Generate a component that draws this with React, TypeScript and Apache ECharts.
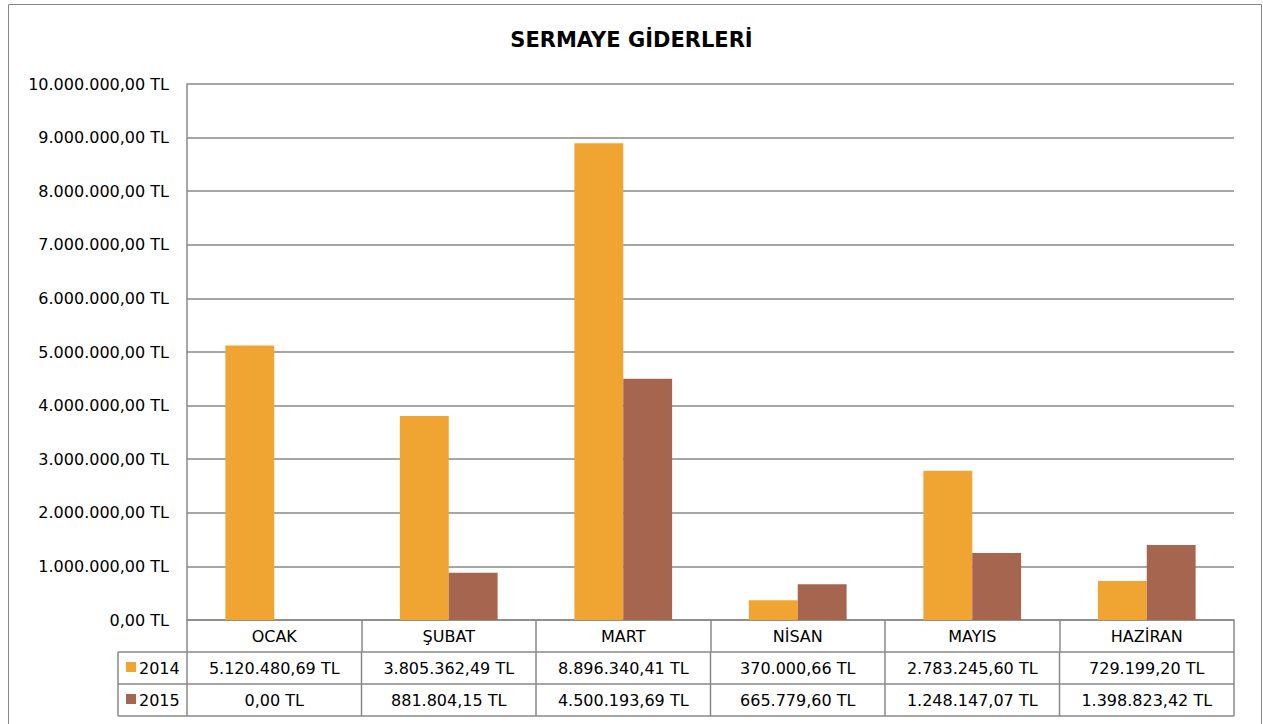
import React, { useEffect, useRef } from "react";
import * as echarts from "echarts";

const categories = ["OCAK", "ŞUBAT", "MART", "NİSAN", "MAYIS", "HAZİRAN"];
const seriesNames = ["2014", "2015"];
const values2014 = [5120480.69, 3805362.49, 8896340.41, 370000.66, 2783245.6, 729199.2];
const values2015 = [0, 881804.15, 4500193.69, 665779.6, 1248147.07, 1398823.42];
const colors = ["#F0A431", "#A5654F"];

const FONT = "DejaVu Sans";
const FS = 16;
const GRID_L = 187;
const GRID_R = 1234;
const GRID_T = 84;
const GRID_B = 620;
const ROW_H = 32;
const LEG_L = 118;
const LINE = "#888888";

function fmtTL(v: number): string {
  const fixed = Math.abs(v).toFixed(2);
  const [intPart, dec] = fixed.split(".");
  const withDots = intPart.replace(/\B(?=(\d{3})+(?!\d))/g, ".");
  return (v < 0 ? "-" : "") + withDots + "," + dec + " TL";
}

export default function App() {
  const ref = useRef<HTMLDivElement>(null);
  useEffect(() => {
    if (!ref.current) return;
    const chart = echarts.init(ref.current, null, { renderer: "svg" });
    const n = categories.length;
    const cw = (GRID_R - GRID_L) / n;
    const rows = [values2014, values2015];
    const graphics: any[] = [];
    graphics.push({
      type: "rect",
      shape: { x: 8.5, y: 4.5, width: 1253, height: 740 },
      style: { fill: "none", stroke: LINE, lineWidth: 1 },
      silent: true,
    });
    for (let r = 1; r <= 3; r++) {
      const y = GRID_B + ROW_H * r;
      graphics.push({
        type: "line",
        shape: { x1: LEG_L, y1: y, x2: GRID_R, y2: y },
        style: { stroke: LINE, lineWidth: 1.5 },
      });
    }
    const yBottom = GRID_B + ROW_H * 3;
    graphics.push({
      type: "line",
      shape: { x1: LEG_L, y1: GRID_B + ROW_H, x2: LEG_L, y2: yBottom },
      style: { stroke: LINE, lineWidth: 1.5 },
    });
    for (let i = 0; i <= n; i++) {
      const x = GRID_L + cw * i;
      graphics.push({
        type: "line",
        shape: { x1: x, y1: GRID_B + ROW_H, x2: x, y2: yBottom },
        style: { stroke: LINE, lineWidth: 1.5 },
      });
    }
    rows.forEach((vals, r) => {
      const cy = GRID_B + ROW_H * (r + 1) + ROW_H / 2;
      graphics.push({
        type: "rect",
        shape: { x: 126, y: cy - 6, width: 10, height: 10 },
        style: { fill: colors[r] },
      });
      graphics.push({
        type: "text",
        x: 139,
        y: cy,
        style: {
          text: seriesNames[r],
          font: `${FS}px "${FONT}"`,
          fill: "#000",
          align: "left",
          verticalAlign: "middle",
        },
      });
      vals.forEach((v, i) => {
        graphics.push({
          type: "text",
          x: GRID_L + cw * (i + 0.5),
          y: cy,
          style: {
            text: fmtTL(v),
            font: `${FS}px "${FONT}"`,
            fill: "#000",
            align: "center",
            verticalAlign: "middle",
          },
        });
      });
    });

    chart.setOption({
      animation: false,
      backgroundColor: "#fff",
      title: {
        text: "SERMAYE GİDERLERİ",
        left: "center",
        top: 24,
        textStyle: { fontFamily: FONT, fontSize: 21, fontWeight: "bold", color: "#000" },
      },
      grid: { left: GRID_L, right: 1263 - GRID_R, top: GRID_T, bottom: 724 - GRID_B, containLabel: false },
      xAxis: {
        type: "category",
        data: categories,
        axisLine: { show: true, lineStyle: { color: LINE, width: 1.5 } },
        axisTick: { show: true, length: ROW_H, lineStyle: { color: LINE, width: 1.5 } },
        axisLabel: { fontFamily: FONT, fontSize: FS, color: "#000", margin: 8 },
      },
      yAxis: {
        type: "value",
        min: 0,
        max: 10000000,
        interval: 1000000,
        axisLine: { show: true, lineStyle: { color: LINE, width: 1.5 } },
        axisTick: { show: false },
        splitLine: { show: true, lineStyle: { color: LINE, width: 1.5 } },
        axisLabel: {
          fontFamily: FONT,
          fontSize: FS,
          color: "#000",
          margin: 18,
          formatter: (v: number) => fmtTL(v),
        },
      },
      series: [
        {
          name: seriesNames[0],
          type: "bar",
          data: values2014,
          itemStyle: { color: colors[0] },
          barGap: "0%",
          barCategoryGap: "44%",
        },
        {
          name: seriesNames[1],
          type: "bar",
          data: values2015,
          itemStyle: { color: colors[1] },
          barGap: "0%",
          barCategoryGap: "44%",
        },
      ],
      graphic: graphics,
    });
    return () => chart.dispose();
  }, []);
  return (
    <div
      ref={ref}
      style={{ position: "fixed", left: 0, top: 0, width: 1263, height: 724 }}
    />
  );
}
